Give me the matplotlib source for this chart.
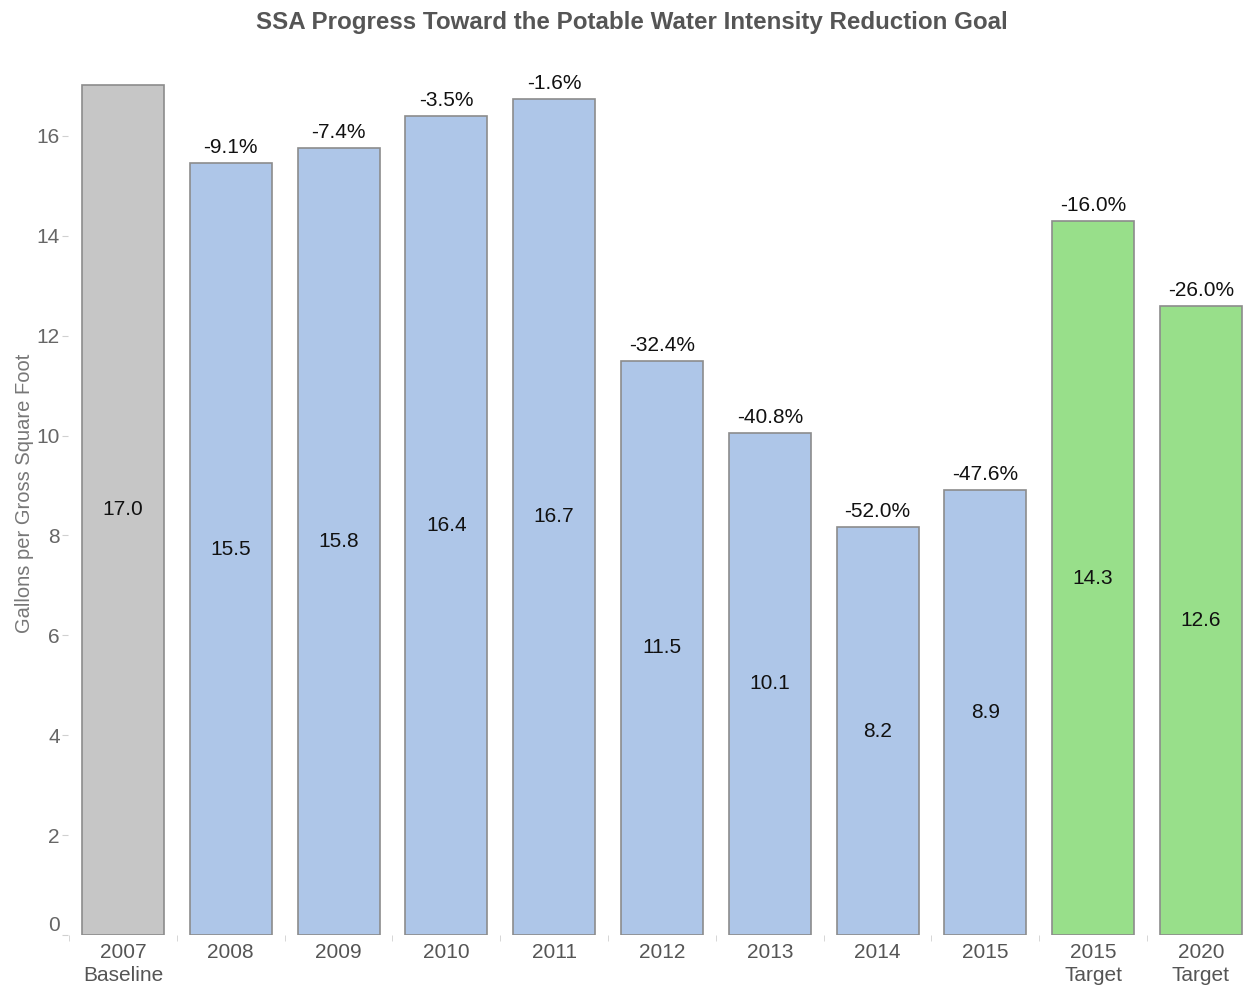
import numpy as np
import matplotlib.pyplot as plt

plt.rcParams['font.family'] = ['Liberation Sans', 'DejaVu Sans']

# 数据
categories = ['2007\nBaseline', '2008', '2009', '2010', '2011', '2012', '2013', '2014', '2015',
              '2015\nTarget', '2020\nTarget']
values = [17.02, 15.45, 15.75, 16.40, 16.74, 11.50, 10.06, 8.16, 8.91, 14.29, 12.59]
value_labels = ['17.0', '15.5', '15.8', '16.4', '16.7', '11.5', '10.1', '8.2', '8.9', '14.3', '12.6']
pct_labels = ['', '-9.1%', '-7.4%', '-3.5%', '-1.6%', '-32.4%', '-40.8%', '-52.0%', '-47.6%',
              '-16.0%', '-26.0%']
bar_colors = ['#c6c6c6'] + ['#aec6e8'] * 8 + ['#98df8a'] * 2

fig = plt.figure(figsize=(12.43, 9.86), dpi=100)
ax = fig.add_axes([68 / 1243, 1 - 935 / 986, 1 - 68 / 1243, (935 - 51) / 986])

x = np.arange(len(categories))
ax.bar(x, values, width=0.76, color=bar_colors, edgecolor='#8c8c8c', linewidth=1.2, zorder=2)

for i, v in enumerate(values):
    ax.text(x[i], v / 2, value_labels[i], ha='center', va='center', fontsize=15, color='#111111')
    if pct_labels[i]:
        ax.text(x[i], v + 0.12, pct_labels[i], ha='center', va='bottom', fontsize=15, color='#111111')

ax.set_xlim(-0.51, 10.39)
ax.set_ylim(0, 17.7)
ax.set_yticks(np.arange(0, 17, 2))
ax.set_xticks(x)
ax.set_xticklabels(categories, fontsize=15, color='#555555', linespacing=1.22)
ax.set_xticks(np.arange(-0.5, 10.5, 1), minor=True)
ax.tick_params(axis='x', which='major', length=0, pad=6)
ax.tick_params(axis='x', which='minor', length=4, color='#d0d0d0')
ax.tick_params(axis='y', length=4, color='#d0d0d0', labelsize=15, labelcolor='#666666', pad=2)
ylabels = ax.get_yticklabels()
ylabels[0].set_va('bottom')

for s in ax.spines.values():
    s.set_visible(False)

ax.set_ylabel('Gallons per Gross Square Foot', fontsize=14.5, color='#777777', labelpad=2)
fig.text(0.508, 0.977, 'SSA Progress Toward the Potable Water Intensity Reduction Goal',
         ha='center', va='center', fontsize=17.4, fontweight='bold', color='#555555')

fig.savefig('out.png', dpi=100)
